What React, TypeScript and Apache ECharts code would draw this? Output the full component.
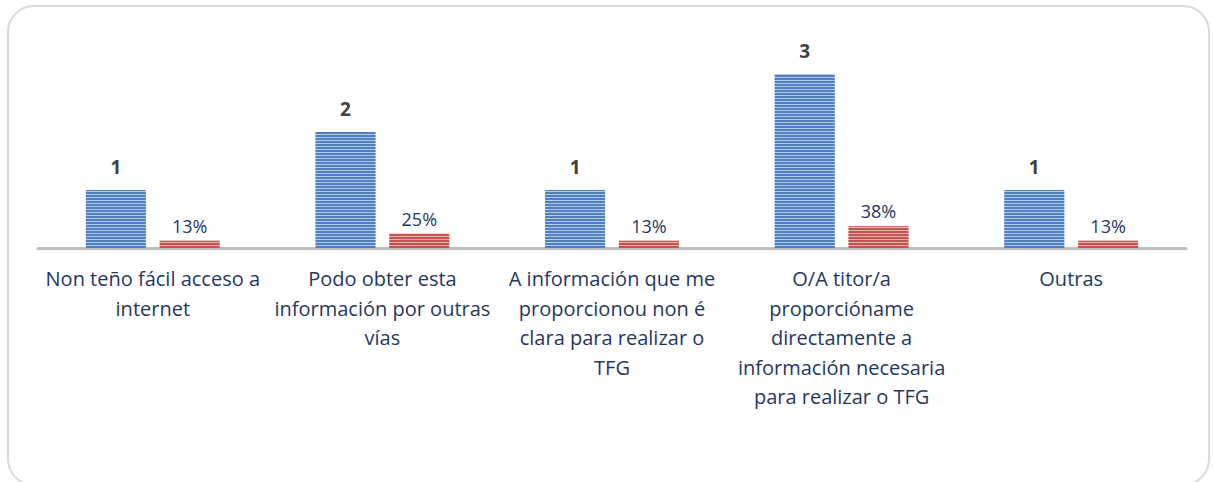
import React, { useEffect, useRef } from "react";
import * as echarts from "echarts";

const categories = [
  "Non teño fácil acceso a\ninternet",
  "Podo obter esta\ninformación por outras\nvías",
  "A información que me\nproporcionou non é\nclara para realizar o\nTFG",
  "O/A titor/a\nproporcióname\ndirectamente a\ninformación necesaria\npara realizar o TFG",
  "Outras",
];
const counts = [1, 2, 1, 3, 1];
const percents = [12.5, 25, 12.5, 37.5, 12.5];

export default function App() {
  const ref = useRef<HTMLDivElement>(null);
  useEffect(() => {
    if (!ref.current) return;
    const chart = echarts.init(ref.current, null, { renderer: "svg" });
    chart.setOption({
      animation: false,
      backgroundColor: "#ffffff",
      graphic: [
        {
          type: "rect",
          shape: { x: 8, y: 6, width: 1201, height: 479, r: 26 },
          style: { fill: "none", stroke: "#d9d9d9", lineWidth: 2 },
          silent: true,
          z: -1,
        },
      ],
      grid: { left: 38, right: 27, top: 45, bottom: 234, containLabel: false },
      xAxis: {
        type: "category",
        data: categories,
        axisLine: { show: true, lineStyle: { color: "#bfbfbf", width: 3 } },
        axisTick: { show: false },
        axisLabel: {
          interval: 0,
          margin: 16,
          color: "#1f3864",
          fontFamily: "Open Sans",
          fontSize: 20,
          lineHeight: 29.5,
          align: "center",
          verticalAlign: "top",
        },
      },
      yAxis: {
        type: "value",
        min: 0,
        max: 3.5,
        show: false,
        splitLine: { show: false },
      },
      series: [
        {
          type: "bar",
          data: counts,
          barWidth: 60,
          barGap: "23%",
          itemStyle: {
            color: "#b3cbea",
            decal: {
              symbol: "rect",
              symbolSize: 1,
              dashArrayX: [[6, 0]],
              dashArrayY: [2, 1],
              rotation: 0,
              color: "#4f7fc1",
            },
          },
          label: {
            show: true,
            position: "top",
            distance: 14,
            color: "#404040",
            fontWeight: "bold",
            fontFamily: "Open Sans",
            fontSize: 19,
          },
        },
        {
          type: "bar",
          data: percents.map((p) => p / 100),
          barWidth: 60,
          itemStyle: {
            color: "#eab0ae",
            decal: {
              symbol: "rect",
              symbolSize: 1,
              dashArrayX: [[6, 0]],
              dashArrayY: [2, 1],
              rotation: 0,
              color: "#c55451",
            },
          },
          label: {
            show: true,
            position: "top",
            distance: 6,
            color: "#1f3864",
            fontFamily: "Open Sans",
            fontSize: 18,
            formatter: (p: any) => Math.round(p.value * 100) + "%",
          },
        },
      ],
    });
    return () => chart.dispose();
  }, []);
  return (
    <div
      ref={ref}
      style={{ position: "absolute", left: 0, top: 0, width: 1213, height: 482 }}
    />
  );
}
